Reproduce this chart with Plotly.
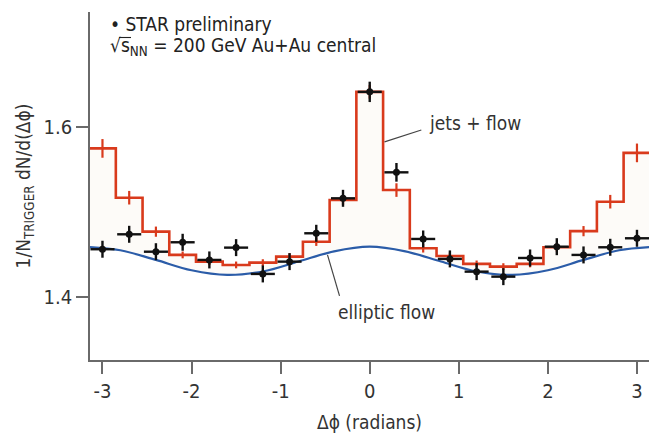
import plotly.graph_objects as go

# ---------------- data ----------------
bin_width = 0.3
bin_centers = [-3.0, -2.7, -2.4, -2.1, -1.8, -1.5, -1.2, -0.9, -0.6, -0.3, 0.0,
               0.3, 0.6, 0.9, 1.2, 1.5, 1.8, 2.1, 2.4, 2.7, 3.0]

star_values = [1.4565, 1.4741, 1.4536, 1.4647, 1.4439, 1.4584, 1.4274, 1.4419, 1.4753, 1.5165, 1.6419,
               1.5471, 1.4686, 1.4451, 1.4301, 1.4242, 1.4462, 1.4595, 1.4498, 1.4588, 1.4694]
star_errors = [0.010, 0.010, 0.010, 0.010, 0.010, 0.010, 0.010, 0.010, 0.010, 0.010, 0.012,
               0.011, 0.010, 0.010, 0.010, 0.010, 0.010, 0.010, 0.010, 0.010, 0.010]

jets_flow = [1.5753, 1.5172, 1.4772, 1.4498, 1.4419, 1.4380, 1.4407, 1.4478, 1.4654, 1.5145, 1.6419,
             1.5262, 1.4576, 1.4486, 1.4392, 1.4360, 1.4392, 1.4588, 1.4778, 1.5125, 1.5700]
jets_flow_err = [0.011, 0.008, 0.006, 0.004, 0.004, 0.004, 0.004, 0.004, 0.005, 0.006, 0.008,
                 0.008, 0.005, 0.004, 0.004, 0.004, 0.004, 0.005, 0.006, 0.008, 0.011]

flow_x = [-3.14, -2.8, -2.4, -2.0, -1.6, -1.2, -0.8, -0.4, 0.0,
          0.4, 0.8, 1.2, 1.6, 2.0, 2.4, 2.8, 3.14]
flow_y = [1.4590, 1.4553, 1.4439, 1.4317, 1.4262, 1.4303, 1.4420, 1.4540, 1.4595,
          1.4540, 1.4420, 1.4303, 1.4262, 1.4317, 1.4439, 1.4553, 1.4590]

x_ticks = [-3, -2, -1, 0, 1, 2, 3]
y_ticks = [1.4, 1.6]

# ---------------- figure ----------------
FONT = "Liberation Sans Narrow, DejaVu Sans Condensed, Arial Narrow, sans-serif"
RED = "#d93a1c"
BLUE = "#2b5ca8"
AXIS = "#6a6a6a"

W, H = 649, 436
ML, MR, MT, MB = 90, 0, 12, 76
PW, PH = W - ML - MR, H - MT - MB


def px(xp):
    return (xp - ML) / PW


def py(yp):
    return (H - MB - yp) / PH


step_x = [c - bin_width / 2 for c in bin_centers] + [bin_centers[-1] + bin_width / 2]
step_y = jets_flow + [jets_flow[-1]]

fig = go.Figure()

# elliptic flow curve
fig.add_trace(go.Scatter(x=flow_x, y=flow_y, mode="lines",
                         line=dict(color=BLUE, width=2.2, shape="spline", smoothing=1.0),
                         hoverinfo="skip", showlegend=False))

# jets + flow histogram (very faint fill down to the flow curve)
fig.add_trace(go.Scatter(x=step_x, y=step_y, mode="lines",
                         line=dict(color=RED, width=2.6, shape="hv"),
                         fill="tonexty", fillcolor="rgba(245,236,222,0.2)",
                         showlegend=False))

# jets + flow error bars
fig.add_trace(go.Scatter(x=bin_centers, y=jets_flow, mode="markers",
                         marker=dict(size=1, color=RED),
                         error_y=dict(type="data", array=jets_flow_err, color=RED,
                                      thickness=2.2, width=0),
                         showlegend=False))

# STAR data points
fig.add_trace(go.Scatter(x=bin_centers, y=star_values, mode="markers",
                         marker=dict(size=7, color="#111111"),
                         error_x=dict(type="constant", value=0.135, color="#111111",
                                      thickness=2.4, width=0),
                         error_y=dict(type="data", array=star_errors, color="#111111",
                                      thickness=2.4, width=0),
                         showlegend=False))

# leader lines for labels
fig.add_shape(type="line", x0=0.166, y0=1.583, x1=0.579, y1=1.597,
              line=dict(color="#444444", width=1.2))
fig.add_shape(type="line", x0=-0.474, y0=1.4498, x1=-0.339, y1=1.4015,
              line=dict(color="#444444", width=1.2))

fig.add_annotation(x=0.64, y=1.605, text="jets + flow", showarrow=False,
                   xanchor="left", yanchor="middle",
                   font=dict(family=FONT, size=19, color="#333333"))
fig.add_annotation(x=-0.38, y=1.3827, text="elliptic flow", showarrow=False,
                   xanchor="left", yanchor="middle",
                   font=dict(family=FONT, size=19, color="#333333"))

# header text
fig.add_annotation(xref="paper", yref="paper", x=px(108), y=py(24),
                   text="\u2022 STAR preliminary", showarrow=False,
                   xanchor="left", yanchor="middle",
                   font=dict(family=FONT, size=19, color="#222222"))
fig.add_annotation(xref="paper", yref="paper", x=px(108), y=py(47),
                   text="\u221as<sub>NN</sub> = 200 GeV Au+Au central",
                   showarrow=False, xanchor="left", yanchor="middle",
                   font=dict(family=FONT, size=19, color="#222222"))
# vinculum of the square root over "s"
fig.add_shape(type="line", xref="paper", yref="paper",
              x0=px(119), y0=py(37.5), x1=px(131), y1=py(37.5),
              line=dict(color="#222222", width=1.1))

fig.update_layout(
    width=W, height=H,
    margin=dict(l=ML, r=MR, t=MT, b=MB),
    paper_bgcolor="white", plot_bgcolor="white",
    font=dict(family=FONT, size=19, color="#333333"),
    xaxis=dict(range=[-3.14, 3.135], tickmode="array", tickvals=x_ticks,
               ticktext=[str(v) for v in x_ticks],
               ticks="outside", ticklen=12, tickwidth=1.5, tickcolor=AXIS,
               showline=True, linecolor=AXIS, linewidth=1.6, showgrid=False, zeroline=False,
               tickfont=dict(family=FONT, size=20, color="#333333"),
               title=dict(text="\u0394\u03d5 (radians)", standoff=14,
                          font=dict(family=FONT, size=19, color="#333333"))),
    yaxis=dict(range=[1.326, 1.736], tickmode="array", tickvals=y_ticks,
               ticktext=["1.4", "1.6"],
               ticks="outside", ticklen=12, tickwidth=1.5, tickcolor=AXIS,
               showline=True, linecolor=AXIS, linewidth=1.6, showgrid=False, zeroline=False,
               tickfont=dict(family=FONT, size=20, color="#333333"),
               title=dict(text="1/N<sub>TRIGGER</sub> dN/d(\u0394\u03d5)", standoff=8,
                          font=dict(family=FONT, size=19, color="#333333"))),
)

fig.write_html("out.html")
